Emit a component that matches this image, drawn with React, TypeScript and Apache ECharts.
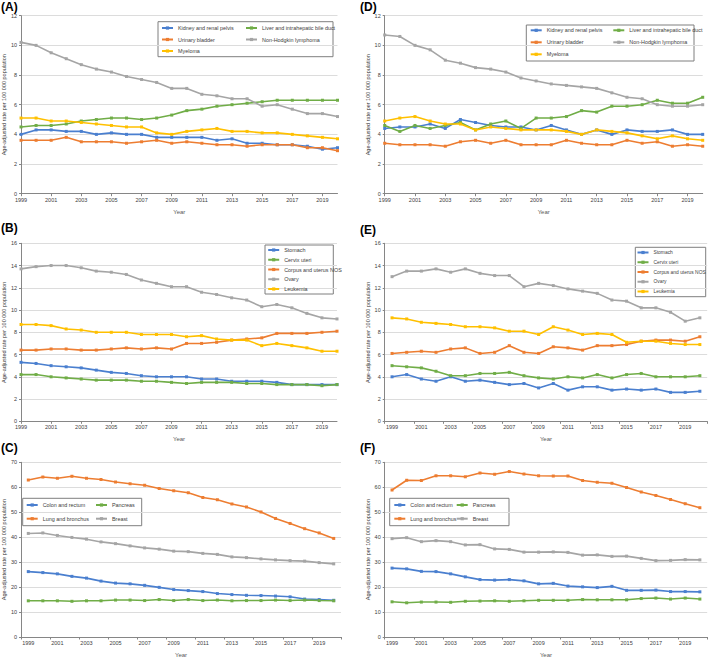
import React, { useEffect, useRef } from 'react';
import * as echarts from 'echarts';

const years = ['1999','2000','2001','2002','2003','2004','2005','2006','2007','2008','2009','2010','2011','2012','2013','2014','2015','2016','2017','2018','2019','2020'];

const BLUE = '#4a7fcf';
const ORANGE = '#ed7d31';
const GRAY = '#a5a5a5';
const YELLOW = '#ffc000';
const GREEN = '#70ad47';

// Panel A
const aKidney = [4.0,4.3,4.3,4.2,4.2,4.0,4.1,4.0,4.0,3.8,3.8,3.8,3.8,3.6,3.7,3.4,3.4,3.3,3.3,3.2,3.0,3.1];
const aUrinary = [3.6,3.6,3.6,3.8,3.5,3.5,3.5,3.4,3.5,3.6,3.4,3.5,3.4,3.3,3.3,3.2,3.3,3.3,3.3,3.1,3.1,2.9];
const aMyeloma = [5.1,5.1,4.9,4.9,4.8,4.7,4.6,4.5,4.5,4.1,4.0,4.2,4.3,4.4,4.2,4.2,4.1,4.1,4.0,3.9,3.8,3.7];
const aLiver = [4.5,4.6,4.6,4.7,4.9,5.0,5.1,5.1,5.0,5.1,5.3,5.6,5.7,5.9,6.0,6.1,6.2,6.3,6.3,6.3,6.3,6.3];
const aNHL = [10.2,10.0,9.5,9.1,8.7,8.4,8.2,7.9,7.7,7.5,7.1,7.1,6.7,6.6,6.4,6.4,5.9,6.0,5.7,5.4,5.4,5.2];

// Panel D
const dKidney = [4.4,4.5,4.5,4.7,4.4,5.0,4.8,4.6,4.5,4.5,4.3,4.6,4.3,4.0,4.3,4.0,4.3,4.2,4.2,4.3,4.0,4.0];
const dUrinary = [3.4,3.3,3.3,3.3,3.2,3.5,3.6,3.4,3.6,3.3,3.3,3.3,3.6,3.4,3.3,3.3,3.6,3.4,3.5,3.2,3.3,3.2];
const dMyeloma = [4.9,5.1,5.2,4.9,4.7,4.7,4.3,4.5,4.4,4.3,4.3,4.3,4.2,4.0,4.3,4.2,4.1,3.9,3.7,3.9,3.7,3.6];
const dLiver = [4.6,4.2,4.6,4.4,4.6,4.8,4.3,4.7,4.9,4.4,5.1,5.1,5.2,5.6,5.5,5.9,5.9,6.0,6.3,6.1,6.1,6.5];
const dNHL = [10.7,10.6,10.0,9.7,9.0,8.8,8.5,8.4,8.2,7.8,7.6,7.4,7.3,7.2,7.1,6.8,6.5,6.4,6.0,5.9,5.9,6.0];

// Panel B
const bStomach = [5.3,5.2,5.0,4.9,4.8,4.6,4.4,4.3,4.1,4.0,4.0,4.0,3.8,3.8,3.6,3.6,3.6,3.5,3.3,3.3,3.3,3.3];
const bCervix = [4.2,4.2,4.0,3.9,3.8,3.7,3.7,3.7,3.6,3.6,3.5,3.4,3.5,3.5,3.5,3.4,3.4,3.3,3.3,3.3,3.2,3.3];
const bCorpus = [6.4,6.4,6.5,6.5,6.4,6.4,6.5,6.6,6.5,6.6,6.5,7.0,7.0,7.1,7.3,7.4,7.5,7.9,7.9,7.9,8.0,8.1];
const bOvary = [13.7,13.9,14.0,14.0,13.8,13.5,13.4,13.2,12.7,12.4,12.1,12.1,11.6,11.4,11.1,10.9,10.3,10.5,10.2,9.7,9.3,9.2];
const bLeukemia = [8.7,8.7,8.6,8.3,8.2,8.0,8.0,8.0,7.8,7.8,7.8,7.6,7.7,7.4,7.3,7.3,6.8,7.0,6.8,6.6,6.3,6.3];

// Panel E
const eStomach = [4.0,4.2,3.8,3.6,4.0,3.6,3.7,3.5,3.3,3.4,3.0,3.4,2.8,3.1,3.1,2.8,2.9,2.8,2.9,2.6,2.6,2.7];
const eCervix = [5.0,4.9,4.8,4.5,4.1,4.1,4.3,4.3,4.4,4.1,3.9,3.8,4.0,3.9,4.2,3.9,4.2,4.3,4.0,4.0,4.0,4.1];
const eCorpus = [6.1,6.2,6.3,6.2,6.5,6.6,6.1,6.2,6.8,6.2,6.1,6.7,6.6,6.4,6.8,6.8,6.9,7.2,7.3,7.3,7.2,7.6];
const eOvary = [13.0,13.5,13.5,13.7,13.4,13.7,13.3,13.1,13.1,12.1,12.4,12.2,11.9,11.7,11.5,10.9,10.8,10.2,10.2,9.8,9.0,9.3];
const eLeukemia = [9.3,9.2,8.9,8.8,8.7,8.5,8.5,8.4,8.1,8.1,7.8,8.5,8.2,7.8,7.9,7.8,7.1,7.2,7.2,7.0,6.9,6.9];

// Panel C
const cColon = [26.2,25.8,25.3,24.3,23.6,22.4,21.6,21.3,20.7,19.9,19.0,18.6,18.2,17.4,17.0,16.7,16.6,16.4,16.1,15.2,15.0,14.7];
const cPancreas = [14.5,14.5,14.5,14.3,14.5,14.5,14.8,14.8,14.6,15.0,14.6,15.0,14.6,14.8,14.5,14.6,14.6,14.8,14.6,14.8,14.6,14.5];
const cLung = [62.9,64.1,63.6,64.4,63.6,63.1,62.1,61.4,60.8,59.5,58.6,57.8,55.9,55.0,53.3,52.1,50.1,47.5,45.5,43.4,41.7,39.5];
const cBreast = [41.5,41.7,40.7,39.9,39.2,38.1,37.4,36.5,35.7,35.2,34.4,34.2,33.5,33.1,32.1,31.8,31.3,30.9,30.6,30.4,29.8,29.3];

// Panel F
const fColon = [27.6,27.3,26.3,26.2,25.3,24.1,23.0,22.8,23.0,22.5,21.3,21.5,20.4,20.1,19.8,20.3,18.7,18.7,18.8,18.2,18.2,18.1];
const fPancreas = [14.1,13.7,14.0,14.0,13.9,14.3,14.4,14.5,14.3,14.5,14.7,14.7,14.7,15.0,14.9,14.9,14.9,15.4,15.6,15.2,15.6,15.2];
const fLung = [58.9,62.8,62.7,64.6,64.6,64.2,65.7,65.2,66.3,65.3,64.6,64.5,64.5,62.7,62.0,61.6,59.9,58.1,56.7,55.1,53.4,51.8];
const fBreast = [39.4,39.8,38.2,38.6,38.2,36.9,37.0,35.3,35.1,34.0,34.0,34.1,33.9,32.8,32.9,32.3,32.4,31.5,30.6,30.7,31.0,30.9];

const yName = 'Age-adjusted rate per 100 000 population';
const FONT = 'Liberation Sans, Arial, sans-serif';

type S = { name: string; color: string; data: number[] };

const panels: Array<{
  label: string; labelX: number; labelY: number;
  grid: { left: number; top: number; width: number; height: number };
  max: number; interval: number; gap: boolean;
  series: S[];
  cols: Array<{ left: number; names: string[] }>;
  legendTop: number; legendGap: number; legendFont: number;
  box: { x: number; y: number; w: number; h: number };
}> = [
  {
    label: '(A)', labelX: 1, labelY: 1,
    grid: { left: 19, top: 15.7, width: 318.5, height: 178 }, max: 12, interval: 2, gap: false,
    series: [
      { name: 'Kidney and renal pelvis', color: BLUE, data: aKidney },
      { name: 'Liver and intrahepatic bile duct', color: GREEN, data: aLiver },
      { name: 'Urinary bladder', color: ORANGE, data: aUrinary },
      { name: 'Non-Hodgkin lymphoma', color: GRAY, data: aNHL },
      { name: 'Myeloma', color: YELLOW, data: aMyeloma },
    ],
    cols: [
      { left: 161, names: ['Kidney and renal pelvis', 'Urinary bladder', 'Myeloma'] },
      { left: 245, names: ['Liver and intrahepatic bile duct', 'Non-Hodgkin lymphoma'] },
    ],
    legendTop: 24.5, legendGap: 4.5, legendFont: 5.4,
    box: { x: 158, y: 21.7, w: 175, h: 35 },
  },
  {
    label: '(B)', labelX: 1, labelY: 222,
    grid: { left: 19, top: 243.3, width: 318, height: 178 }, max: 16, interval: 2, gap: false,
    series: [
      { name: 'Stomach', color: BLUE, data: bStomach },
      { name: 'Cervix uteri', color: GREEN, data: bCervix },
      { name: 'Corpus and uterus NOS', color: ORANGE, data: bCorpus },
      { name: 'Ovary', color: GRAY, data: bOvary },
      { name: 'Leukemia', color: YELLOW, data: bLeukemia },
    ],
    cols: [{ left: 267.2, names: ['Stomach', 'Cervix uteri', 'Corpus and uterus NOS', 'Ovary', 'Leukemia'] }],
    legendTop: 246.5, legendGap: 2.75, legendFont: 5.4,
    box: { x: 265, y: 245, w: 68.3, h: 49 },
  },
  {
    label: '(C)', labelX: 1, labelY: 442,
    grid: { left: 19, top: 462.3, width: 322, height: 178.4 }, max: 70, interval: 10, gap: true,
    series: [
      { name: 'Colon and rectum', color: BLUE, data: cColon },
      { name: 'Pancreas', color: GREEN, data: cPancreas },
      { name: 'Lung and bronchus', color: ORANGE, data: cLung },
      { name: 'Breast', color: GRAY, data: cBreast },
    ],
    cols: [
      { left: 25.7, names: ['Colon and rectum', 'Lung and bronchus'] },
      { left: 95, names: ['Pancreas', 'Breast'] },
    ],
    legendTop: 501.5, legendGap: 6.7, legendFont: 5.4,
    box: { x: 22.7, y: 498.3, w: 119, h: 27.4 },
  },
  {
    label: '(D)', labelX: 360, labelY: 1,
    grid: { left: 384.7, top: 15.7, width: 318, height: 178 }, max: 12, interval: 2, gap: false,
    series: [
      { name: 'Kidney and renal pelvis', color: BLUE, data: dKidney },
      { name: 'Liver and intrahepatic bile duct', color: GREEN, data: dLiver },
      { name: 'Urinary bladder', color: ORANGE, data: dUrinary },
      { name: 'Non-Hodgkin lymphoma', color: GRAY, data: dNHL },
      { name: 'Myeloma', color: YELLOW, data: dMyeloma },
    ],
    cols: [
      { left: 529.7, names: ['Kidney and renal pelvis', 'Urinary bladder', 'Myeloma'] },
      { left: 612.3, names: ['Liver and intrahepatic bile duct', 'Non-Hodgkin lymphoma'] },
    ],
    legendTop: 26.8, legendGap: 5, legendFont: 5.4,
    box: { x: 526.3, y: 25, w: 167.7, h: 36 },
  },
  {
    label: '(E)', labelX: 360, labelY: 224,
    grid: { left: 384.7, top: 243.3, width: 322.5, height: 178 }, max: 16, interval: 2, gap: true,
    series: [
      { name: 'Stomach', color: BLUE, data: eStomach },
      { name: 'Cervix uteri', color: GREEN, data: eCervix },
      { name: 'Corpus and uterus NOS', color: ORANGE, data: eCorpus },
      { name: 'Ovary', color: GRAY, data: eOvary },
      { name: 'Leukemia', color: YELLOW, data: eLeukemia },
    ],
    cols: [{ left: 636.5, names: ['Stomach', 'Cervix uteri', 'Corpus and uterus NOS', 'Ovary', 'Leukemia'] }],
    legendTop: 249, legendGap: 2.75, legendFont: 4.9,
    box: { x: 635.3, y: 247.3, w: 70.4, h: 49.4 },
  },
  {
    label: '(F)', labelX: 360, labelY: 442,
    grid: { left: 384.7, top: 462.3, width: 322.5, height: 178.4 }, max: 70, interval: 10, gap: true,
    series: [
      { name: 'Colon and rectum', color: BLUE, data: fColon },
      { name: 'Pancreas', color: GREEN, data: fPancreas },
      { name: 'Lung and bronchus', color: ORANGE, data: fLung },
      { name: 'Breast', color: GRAY, data: fBreast },
    ],
    cols: [
      { left: 393.3, names: ['Colon and rectum', 'Lung and bronchus'] },
      { left: 455.7, names: ['Pancreas', 'Breast'] },
    ],
    legendTop: 501.5, legendGap: 6.7, legendFont: 5.4,
    box: { x: 389.7, y: 498.3, w: 119.3, h: 27.4 },
  },
];

function buildOption() {
  const grid: any[] = [];
  const xAxis: any[] = [];
  const yAxis: any[] = [];
  const series: any[] = [];
  const legend: any[] = [];
  const graphic: any[] = [];
  panels.forEach((p, i) => {
    grid.push({ ...p.grid, containLabel: false });
    xAxis.push({
      type: 'category', gridIndex: i, data: years, boundaryGap: p.gap,
      name: 'Year', nameLocation: 'middle', nameGap: 15,
      nameTextStyle: { fontSize: 6, color: '#595959', fontFamily: FONT },
      axisLine: { lineStyle: { color: '#868686', width: 1 } },
      axisTick: { show: true, interval: 1, length: 2.5, lineStyle: { color: '#868686' } },
      axisLabel: { interval: 1, fontSize: 5.5, color: '#404040', margin: 3, fontFamily: FONT },
      splitLine: { show: false },
    });
    yAxis.push({
      type: 'value', gridIndex: i, min: 0, max: p.max, interval: p.interval,
      name: yName, nameLocation: 'middle', nameGap: 12,
      nameTextStyle: { fontSize: 5.5, color: '#404040', fontFamily: FONT },
      axisLine: { show: true, lineStyle: { color: '#868686', width: 1 } },
      axisTick: { show: true, length: 2, lineStyle: { color: '#868686' } },
      axisLabel: { fontSize: 5.5, color: '#404040', margin: 4, fontFamily: FONT },
      splitLine: { show: true, lineStyle: { color: '#dcdcdc', width: 1 } },
    });
    p.series.forEach((s) => {
      series.push({
        type: 'line', name: s.name, xAxisIndex: i, yAxisIndex: i, data: s.data,
        symbol: 'rect', symbolSize: 3, showSymbol: true,
        itemStyle: { color: s.color }, lineStyle: { color: s.color, width: 1.6 },
        emphasis: { disabled: true },
      });
    });
    p.cols.forEach((c) => {
      legend.push({
        orient: 'vertical', left: c.left, top: p.legendTop, padding: 0,
        itemGap: p.legendGap, itemWidth: 11, itemHeight: 4,
        data: c.names, selectedMode: false,
        textStyle: { fontSize: p.legendFont, lineHeight: 7, color: '#404040', fontFamily: FONT },
      });
    });
    graphic.push({
      type: 'rect', shape: { x: p.box.x, y: p.box.y, width: p.box.w, height: p.box.h },
      style: { fill: 'none', stroke: '#7f7f7f', lineWidth: 1 }, silent: true,
    });
    graphic.push({
      type: 'text', x: p.labelX, y: p.labelY,
      style: { text: p.label, font: `bold 12px ${FONT}`, fill: '#000', textVerticalAlign: 'top' },
      silent: true,
    });
  });
  return {
    animation: false,
    backgroundColor: '#ffffff',
    textStyle: { fontFamily: FONT },
    grid, xAxis, yAxis, series, legend, graphic,
  };
}

export default function App() {
  const ref = useRef<HTMLDivElement>(null);
  useEffect(() => {
    if (!ref.current) return;
    const chart = echarts.init(ref.current, undefined, { renderer: 'svg' });
    chart.setOption(buildOption() as any);
    return () => chart.dispose();
  }, []);
  return (
    <div
      ref={ref}
      style={{ position: 'fixed', left: 0, top: 0, width: 709, height: 659, background: '#fff' }}
    />
  );
}
